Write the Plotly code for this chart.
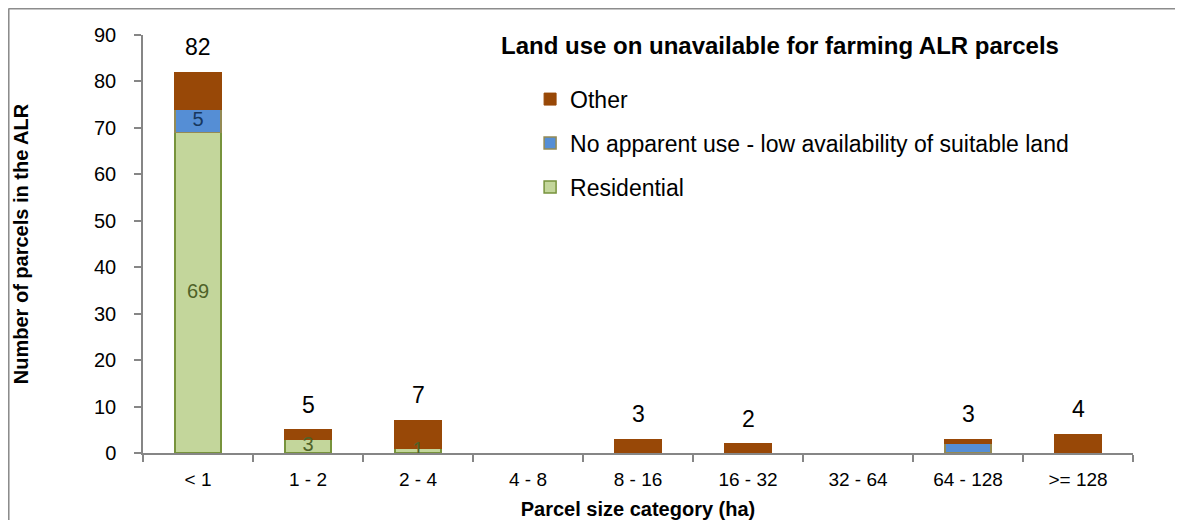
import plotly.graph_objects as go

categories = ["< 1", "1 - 2", "2 - 4", "4 - 8", "8 - 16", "16 - 32", "32 - 64", "64 - 128", ">= 128"]
residential = [69, 3, 1, 0, 0, 0, 0, 0, 0]
no_apparent = [5, 0, 0, 0, 0, 0, 0, 2, 0]
other = [8, 2, 6, 0, 3, 2, 0, 1, 4]
res_labels = ["69", "3", "1", "", "", "", "", "", ""]
noap_labels = ["5", "", "", "", "", "", "", "", ""]

totals = [r + n + o for r, n, o in zip(residential, no_apparent, other)]


def nz(vals):
    return [v if v else None for v in vals]


FONT = "Liberation Sans"
BW = 0.42

fig = go.Figure()
fig.add_trace(go.Bar(name="Residential", x=categories, y=nz(residential), width=BW,
                     marker=dict(color="#C3D69B", line=dict(color="#77933C", width=1.5)),
                     legendgroup="r", legendrank=3))
fig.add_trace(go.Bar(name="No apparent use - low availability of suitable land", x=categories, y=nz(no_apparent),
                     width=BW, marker=dict(color="#558ED5", line=dict(color="#948A54", width=1.5)),
                     legendgroup="n", legendrank=2))
fig.add_trace(go.Bar(name="Other", x=categories, y=nz(other), width=BW,
                     marker=dict(color="#984807", line=dict(color="#984807", width=1)),
                     legendgroup="o", legendrank=1))

# segment labels at segment midpoints
fig.add_trace(go.Scatter(x=categories, y=[r / 2 for r in residential], text=res_labels, mode="text",
                         textposition="middle center", textfont=dict(family=FONT, size=20, color="#4F6228"),
                         showlegend=False, hoverinfo="skip"))
fig.add_trace(go.Scatter(x=categories, y=[r + n / 2 for r, n in zip(residential, no_apparent)], text=noap_labels,
                         mode="text", textposition="middle center",
                         textfont=dict(family=FONT, size=20, color="#17375E"),
                         showlegend=False, hoverinfo="skip"))

for c, t in zip(categories, totals):
    if t > 0:
        fig.add_annotation(x=c, y=t, text=str(t), showarrow=False, yshift=25,
                           font=dict(family=FONT, size=23, color="black"))

fig.add_annotation(xref="paper", yref="paper", x=0.643, y=0.976,
                   text="<b>Land use on unavailable for farming ALR parcels</b>",
                   showarrow=False, font=dict(family=FONT, size=24, color="black"),
                   xanchor="center", yanchor="middle")

# outer chart border: only top and left edges are visible in the frame
fig.add_shape(type="line", xref="paper", yref="paper", x0=-0.1358, x1=1.06, y0=1.0634, y1=1.0634,
              line=dict(color="#8C8C8C", width=2), layer="below")
fig.add_shape(type="line", xref="paper", yref="paper", x0=-0.1358, x1=-0.1358, y0=-0.21, y1=1.0634,
              line=dict(color="#8C8C8C", width=2), layer="below")

fig.update_layout(
    barmode="stack",
    width=1167, height=512,
    margin=dict(l=135, r=42, t=27, b=67),
    paper_bgcolor="white", plot_bgcolor="white",
    font=dict(family=FONT, size=19, color="black"),
    showlegend=True,
    legend=dict(x=0.391, y=0.898, xanchor="left", yanchor="top", traceorder="grouped",
                font=dict(family=FONT, size=23), bgcolor="rgba(0,0,0,0)",
                itemwidth=30, tracegroupgap=11),
    xaxis=dict(showline=True, linecolor="#868686", linewidth=1.5, ticks="outside", tickson="boundaries",
               ticklen=7, tickcolor="#868686", tickwidth=1.5, showgrid=False, ticklabelstandoff=8,
               tickfont=dict(family=FONT, size=19), automargin=False,
               title=dict(text="<b>Parcel size category (ha)</b>", font=dict(family=FONT, size=20), standoff=14)),
    yaxis=dict(range=[0, 90], dtick=10, showline=True, linecolor="#868686", linewidth=1.5, ticks="outside",
               ticklen=7, tickcolor="#868686", tickwidth=1.5, showgrid=False, zeroline=False,
               ticklabelstandoff=14, tickfont=dict(family=FONT, size=20), automargin=False,
               title=dict(text="<b>Number of parcels in the ALR</b>", font=dict(family=FONT, size=20), standoff=60)),
)

fig.write_html("out.html")
